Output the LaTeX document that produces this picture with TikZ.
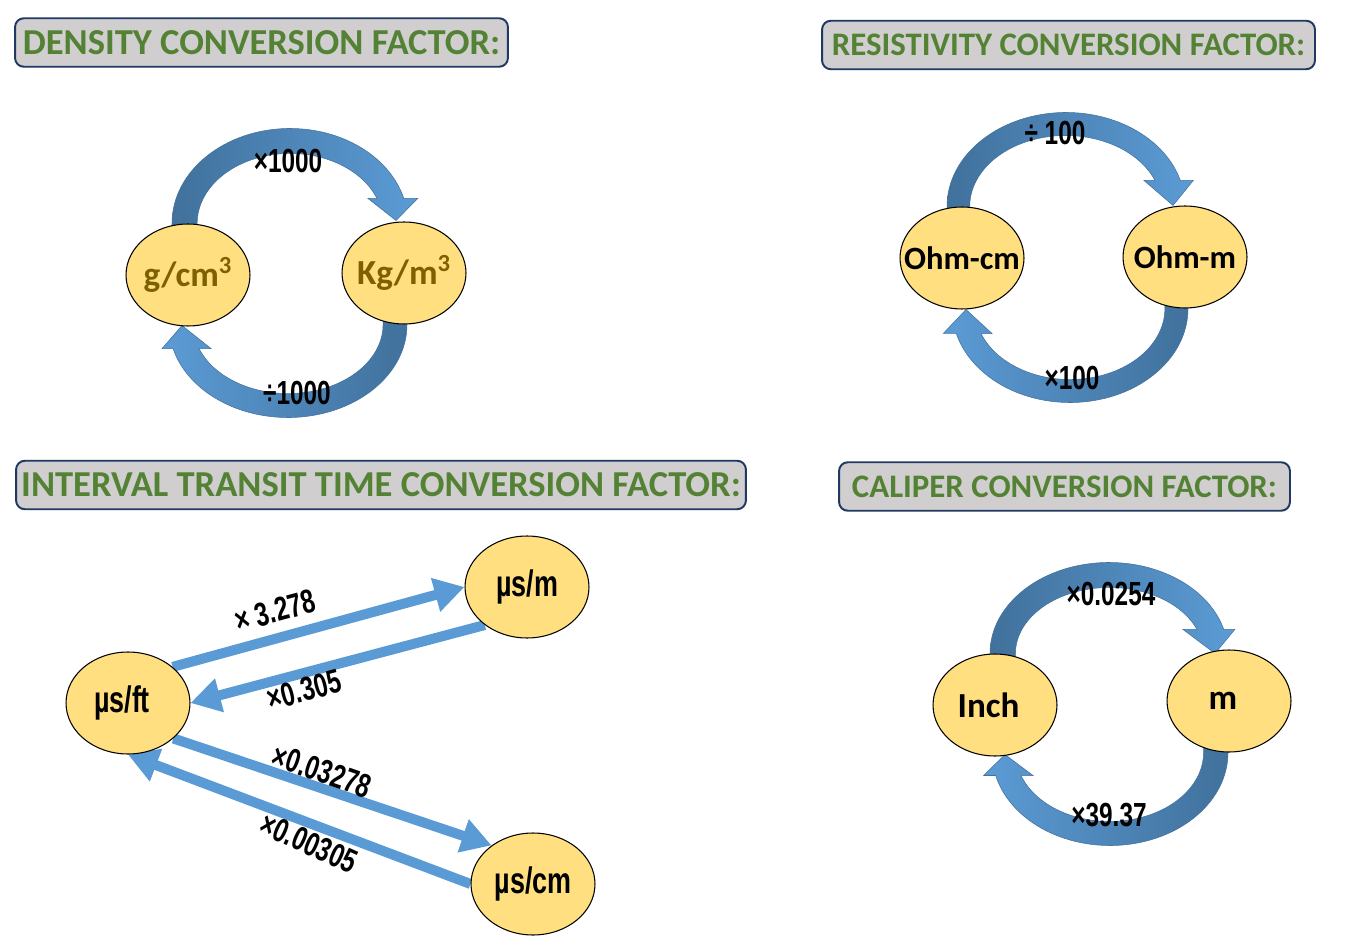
\documentclass[tikz,border=0pt]{standalone}
\usepackage{fontspec}
\setmainfont{Carlito}
\newfontfamily\factorfont[FakeStretch=0.73]{Liberation Sans}
\usetikzlibrary{shapes.geometric,arrows.meta,calc,backgrounds}
\definecolor{titlefill}{HTML}{D0CECE}
\definecolor{titleline}{HTML}{1F3864}
\definecolor{titletext}{HTML}{548235}
\definecolor{unitfill}{HTML}{FFDF80}
\definecolor{unittext}{HTML}{7F6000}
\definecolor{bandlight}{HTML}{5B9BD5}
\definecolor{banddark}{HTML}{41719C}
\begin{document}
\begin{tikzpicture}[
    x=0.02cm,y=-0.02cm,
    heading/.style={
        draw=titleline,
        fill=titlefill,
        rounded corners=5pt,
        line width=1.1pt,
        text=titletext,
        inner sep=0pt,
        minimum height=0.97cm,
        font=\bfseries\fontsize{20.8}{24}\selectfont
    },
    unit/.style={
        ellipse,
        draw,
        fill=unitfill,
        line width=0.6pt,
        minimum width=2.48cm,
        minimum height=2.04cm,
        inner sep=0pt,
        font=\bfseries\fontsize{20}{24}\selectfont
    },
    factor/.style={font=\factorfont\bfseries\fontsize{19}{22}\selectfont,inner sep=0pt},
    band/.style={draw=banddark,line width=0.3pt},
    flow/.style={draw=bandlight,line width=0.2cm,-{Triangle[length=0.6cm,width=0.66cm]}}
]
\useasboundingbox (0,0) rectangle (1365,952);

\begin{scope}

\node[heading,minimum width=9.86cm] (hdensity) at (261.5,42.5)
    {DENSITY CONVERSION FACTOR:};

\node[unit,text=unittext] (gcm) at (188,275) {\makebox[0pt]{g/cm\textsuperscript{3}}};
\node[unit,text=unittext] (kgm) at (404,273) {\makebox[0pt]{Kg/m\textsuperscript{3}}};

\node[factor] (fgk) at (288,161) {×1000};
\node[factor] (fkg) at (297,393) {÷1000};

\begin{scope}[on background layer]
\shade[band,left color=banddark,right color=bandlight]
    ($(gcm.north)+(-16,6)$) -- ++(0,-6)
    arc[start angle=180,end angle=344.7,x radius=118,y radius=95]
    -- ++(14,0) -- ($(kgm.north)+(-8,-1)$) -- ++(-28,-22) -- ++(9,0)
    arc[start angle=339.1,end angle=180,x radius=93,y radius=70]
    -- ++(0,6) -- cycle;
\shade[band,left color=bandlight,right color=banddark]
    ($(kgm.south)+(3,-6)$) -- ++(0,6)
    arc[start angle=0,end angle=165,x radius=119,y radius=93]
    -- ++(-11,0) -- ($(gcm.south)+(-6,-1)$) -- ++(29,23) -- ++(-12,0)
    arc[start angle=159.7,end angle=0,x radius=95,y radius=69]
    -- ++(0,-6) -- cycle;
\end{scope}

\end{scope}

\begin{scope}

\node[heading,minimum width=9.86cm,font=\bfseries\fontsize{18.7}{22}\selectfont] (hresist) at (1068.5,45)
    {RESISTIVITY CONVERSION FACTOR:};

\node[unit,font=\bfseries\fontsize{18.5}{22}\selectfont] (ohmcm) at (962,258) {\makebox[0pt]{Ohm-cm}};
\node[unit,font=\bfseries\fontsize{18.5}{22}\selectfont] (ohmm) at (1185,257) {\makebox[0pt]{Ohm-m}};

\node[factor] (fcm) at (1055,133) {÷ 100};
\node[factor] (fmc) at (1072,378) {×100};

\begin{scope}[on background layer]
\shade[band,left color=banddark,right color=bandlight]
    ($(ohmcm.north)+(-15,6)$) -- ++(0,-6)
    arc[start angle=180,end angle=343.9,x radius=119,y radius=94]
    -- ++(13,0) -- ($(ohmm.north)+(-12,0)$) -- ++(-29,-25) -- ++(11,0)
    arc[start angle=338.5,end angle=180,x radius=96,y radius=71]
    -- ++(0,6) -- cycle;
\shade[band,left color=bandlight,right color=banddark]
    ($(ohmm.south)+(3,-6)$) -- ++(0,6)
    arc[start angle=0,end angle=164.6,x radius=118,y radius=94]
    -- ++(-13,0) -- ($(ohmcm.south)+(4,0)$) -- ++(26,24) -- ++(-11,0)
    arc[start angle=159.4,end angle=0,x radius=95,y radius=71]
    -- ++(0,-6) -- cycle;
\end{scope}

\end{scope}

\begin{scope}

\node[heading,minimum width=14.6cm] (hitt) at (381,485)
    {INTERVAL TRANSIT TIME CONVERSION FACTOR:};

\node[unit,font=\factorfont\bfseries\fontsize{21}{24}\selectfont] (usm)  at (527,587) {\makebox[0pt]{µs/m}};
\node[unit,font=\factorfont\bfseries\fontsize{21}{24}\selectfont] (usft) at (128,703) {\makebox[0pt]{µs/ft\hspace{0.24cm}}};
\node[unit,font=\factorfont\bfseries\fontsize{21}{24}\selectfont] (uscm) at (533,884) {\makebox[0pt]{µs/cm}};

\begin{scope}[on background layer]
\draw[flow] (usft.39) -- (usm.west);
\draw[flow] (usm.222) -- (usft.east);
\draw[flow] (usft.322) -- (uscm.137);
\draw[flow] (uscm.west) -- (usft.south);
\end{scope}

\node[factor,rotate=15] (ftm) at (275,611) {× 3.278};
\node[factor,rotate=15] (mft) at (304,690) {×0.305};
\node[factor,rotate=-19] (ftcm) at (322,771) {×0.03278};
\node[factor,rotate=-24] (cmft) at (309,843) {×0.00305};

\end{scope}

\begin{scope}

\node[heading,minimum width=9.02cm,font=\bfseries\fontsize{18.7}{22}\selectfont] (hcaliper) at (1064.5,486.5)
    {CALIPER CONVERSION FACTOR:};

\node[unit] (inch)  at (995,705) {\makebox[0pt]{Inch\hspace{0.26cm}}};
\node[unit] (meter) at (1229,701) {\makebox[0pt]{m\hspace{0.24cm}}};

\node[factor] (fim) at (1111,594) {×0.0254};
\node[factor] (fmi) at (1109,815) {×39.37};

\begin{scope}[on background layer]
\shade[band,left color=banddark,right color=bandlight]
    ($(inch.north)+(-5,6)$) -- ++(0,-6)
    arc[start angle=180,end angle=344.7,x radius=119,y radius=91]
    -- ++(11,0) -- ($(meter.north)+(-14,4)$) -- ++(-32,-24) -- ++(14,0)
    arc[start angle=338.7,end angle=180,x radius=94,y radius=66]
    -- ++(0,6) -- cycle;
\shade[band,left color=bandlight,right color=banddark]
    ($(meter.south)+(-1,-6)$) -- ++(0,6)
    arc[start angle=0,end angle=165.7,x radius=118,y radius=93]
    -- ++(-12,0) -- ($(inch.south)+(10,-2)$) -- ++(28,21) -- ++(-12,0)
    arc[start angle=160.5,end angle=0,x radius=94,y radius=69]
    -- ++(0,-6) -- cycle;
\end{scope}

\end{scope}
\end{tikzpicture}
\end{document}
